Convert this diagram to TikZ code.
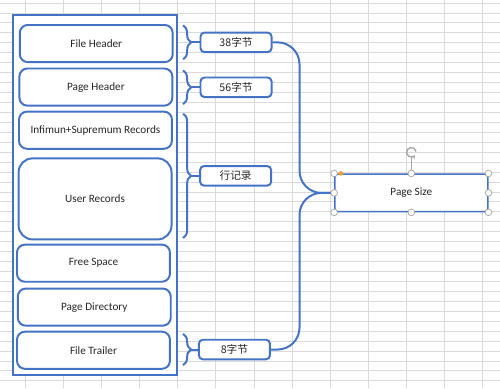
\documentclass[tikz,border=0pt]{standalone}
\usepackage{fontspec}
\setmainfont{Carlito}
\newfontfamily\cjk{Noto Sans CJK SC}
\usetikzlibrary{decorations.pathreplacing,arrows.meta}

\definecolor{shapeblue}{HTML}{4472C4}
\definecolor{cellgray}{HTML}{DADADA}
\definecolor{inkgray}{HTML}{262626}
\definecolor{knobgray}{HTML}{A6A6A6}
\definecolor{anchororange}{HTML}{F0A030}

\begin{document}
\begin{tikzpicture}[
  cell/.style={draw=cellgray, line width=0.6pt},
  part/.style={draw=shapeblue, line width=1.4pt, fill=white, rounded corners=0.2cm,
    minimum width=3.83cm, minimum height=0.93cm, inner sep=0pt,
    text=inkgray, font=\fontsize{8pt}{10pt}\selectfont},
  tag/.style={draw=shapeblue, line width=1.4pt, fill=white, rounded corners=0.1cm,
    minimum width=1.78cm, minimum height=0.49cm, inner sep=0pt,
    text=inkgray, font=\cjk\fontsize{7.6pt}{9pt}\selectfont},
  sizebox/.style={draw=shapeblue, line width=1pt, fill=white, rounded corners=0.08cm,
    minimum width=3.83cm, minimum height=0.94cm, inner sep=0pt,
    text=inkgray, font=\fontsize{8pt}{10pt}\selectfont},
  curly/.style={draw=shapeblue, line width=1.4pt, decorate,
    decoration={brace, amplitude=0.2cm}},
  stub/.style={draw=shapeblue, line width=1.4pt},
  link/.style={draw=shapeblue, line width=1.4pt, rounded corners=0.55cm},
  knob/.style={draw=knobgray, fill=white, line width=0.5pt}
]
\fill [white] (0, 0) rectangle (12.5, -9.7);

% sheet cells
\draw [cell, xstep=0.954, ystep=0.249, xshift=0.625cm, yshift=-0.065cm] (-0.625, 0.065) grid (11.875, -9.635);

% page layout
\draw [shapeblue, line width=1.4pt, fill=white] (0.32, -0.36) rectangle (4.42, -9.38);
\node (fh) at (2.40, -1.08) [part] {File Header};
\node (ph) at (2.39, -2.17) [part] {Page Header};
\node (is) at (2.38, -3.25) [part] {Infimun+Supremum Records};
\node (ur) at (2.37, -4.97) [part, minimum height=2.03cm, rounded corners=0.35cm] {User Records};
\node (fs) at (2.33, -6.58) [part] {Free Space};
\node (pd) at (2.35, -7.68) [part] {Page Directory};
\node (ft) at (2.33, -8.76) [part] {File Trailer};

% sizes
\draw [curly] (4.575, -0.625) -- (4.575, -1.475);
\coordinate (t38) at (4.775, -1.05);
\node (n38) at (5.90, -1.05) [tag] {38字节};
\draw [stub] (t38) -- (n38.west);

\draw [curly] (4.575, -1.75) -- (4.575, -2.6);
\coordinate (t56) at (4.775, -2.175);
\node (n56) at (5.90, -2.175) [tag] {56字节};
\draw [stub] (t56) -- (n56.west);

\draw [curly] (4.575, -2.835) -- (4.575, -5.95);
\coordinate (trow) at (4.775, -4.3925);
\node (nrow) at (5.89, -4.3925) [tag] {行记录};
\draw [stub] (trow) -- (nrow.west);

\draw [curly] (4.575, -8.35) -- (4.575, -9.135);
\coordinate (t8) at (4.775, -8.7425);
\node (n8) at (5.86, -8.7425) [tag] {8字节};
\draw [stub] (t8) -- (n8.west);

% page size
\node (ps) at (10.29, -4.82) [sizebox] {Page Size};
\coordinate (join) at (7.49, -4.82);
\draw [link] (n38.east) -| (join) -- (ps.west);
\draw [link] (n8.east) -| (join) -- (ps.west);

% selection handles
\coordinate (spin) at ([yshift=0.53cm]ps.north);
\draw [knobgray, line width=0.5pt] (ps.north) -- ([yshift=-0.12cm]spin);
\draw [knobgray, line width=1pt, -{Stealth[length=2.4pt, width=3.2pt]}] (spin) ++(10:0.12) arc (10:320:0.12);
\draw [knob] (ps.north west) circle (0.083);
\draw [knob] (ps.north) circle (0.083);
\draw [knob] (ps.north east) circle (0.083);
\draw [knob] (ps.west) circle (0.083);
\draw [knob] (ps.east) circle (0.083);
\draw [knob] (ps.south west) circle (0.083);
\draw [knob] (ps.south) circle (0.083);
\draw [knob] (ps.south east) circle (0.083);
\fill [anchororange] ([xshift=0.17cm]ps.north west) circle (0.058);
\end{tikzpicture}
\end{document}
